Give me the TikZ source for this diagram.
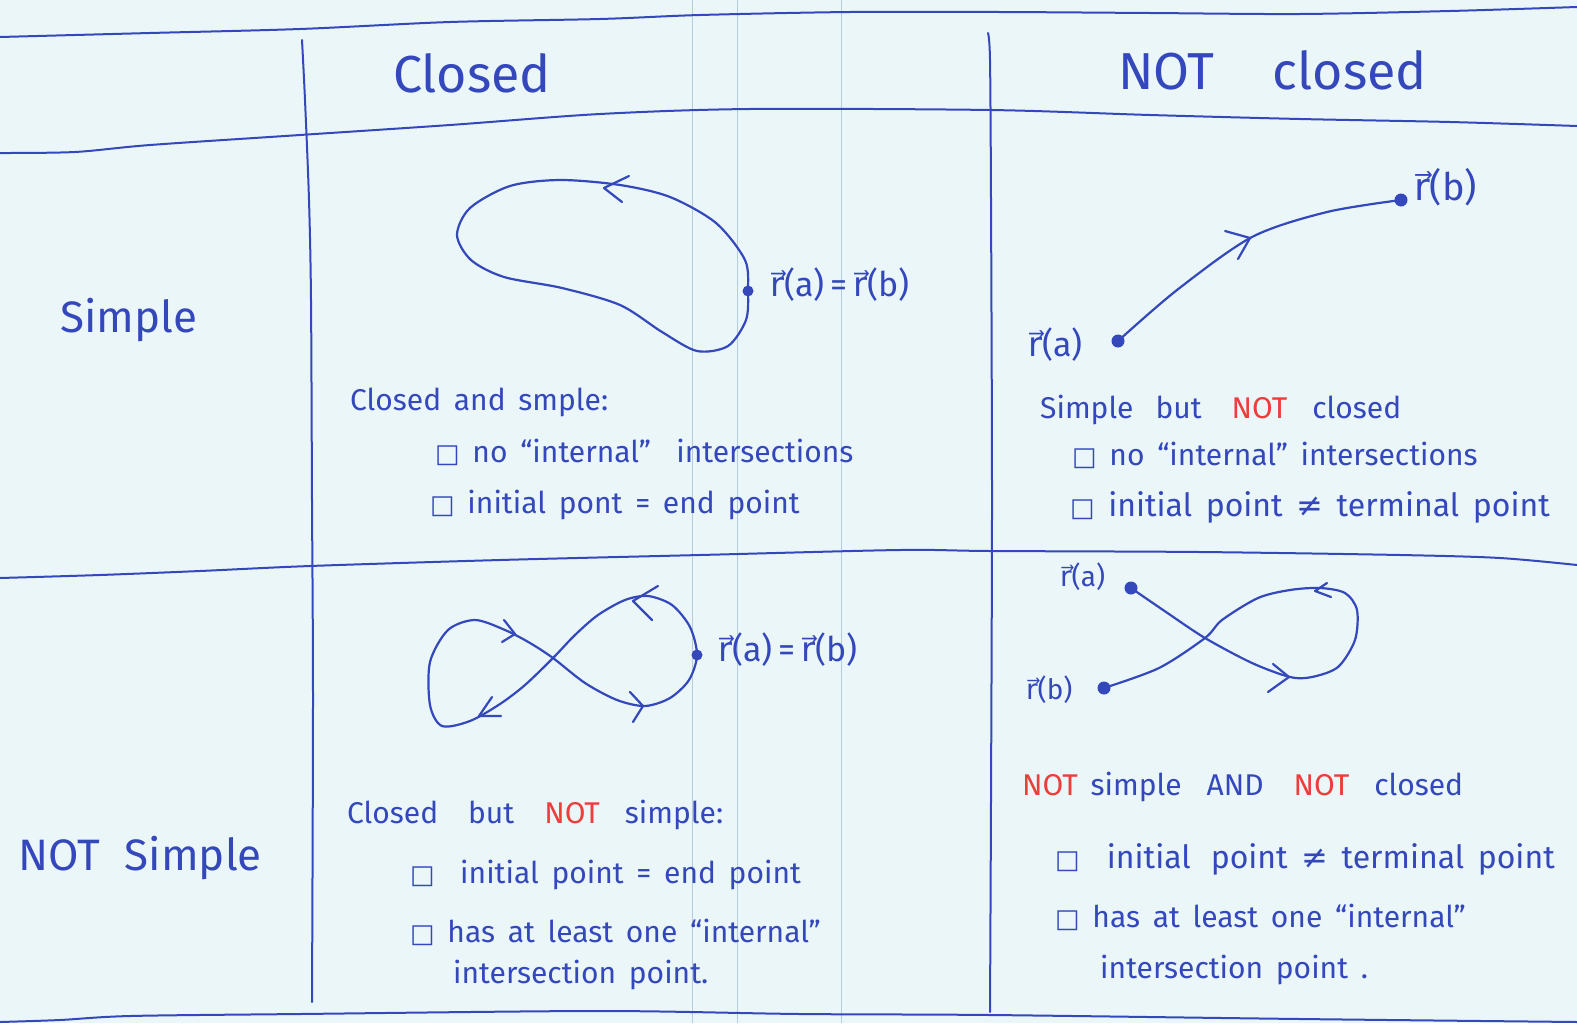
\documentclass[tikz,border=0pt]{standalone}
\usepackage{fontspec}
\setmainfont{Fira Sans}[WordSpace=1.6]
\newfontfamily\symfont{DejaVu Sans}
\definecolor{ink}{RGB}{52,72,188}
\definecolor{notred}{RGB}{236,62,58}
\definecolor{paper}{RGB}{234,246,248}
\definecolor{faint}{RGB}{180,205,222}
\newcommand{\cbx}{{\symfont\fontsize{26}{30}\selectfont □}}
\newcommand{\rvec}{{\symfont r⃗}}
\newcommand{\neqsym}{{\symfont ≠}}
\newcommand{\rednot}{\textcolor{notred}{NOT}}
\tikzset{
  pen/.style={draw=ink, line width=2.2pt, line cap=round, line join=round},
  gridline/.style={draw=ink, line width=2pt, line cap=round},
  paperline/.style={draw=faint, line width=0.8pt},
  txt/.style={anchor=west, inner sep=0pt, text=ink, font=\fontsize{30}{36}\selectfont},
  head/.style={anchor=west, inner sep=0pt, text=ink, font=\fontsize{52}{60}\selectfont},
  rowlab/.style={anchor=west, inner sep=0pt, text=ink, font=\fontsize{44}{52}\selectfont},
  lab/.style={anchor=west, inner sep=0pt, text=ink, font=\fontsize{34}{40}\selectfont},
  dot/.style={circle, fill=ink, inner sep=0pt, minimum size=13pt},
  smalldot/.style={circle, fill=ink, inner sep=0pt, minimum size=11pt}
}
\begin{document}
\begin{tikzpicture}[x=1pt,y=-1pt]
\fill[paper] (0,0) rectangle (1577,1023);
\useasboundingbox (0,0) rectangle (1577,1023);
% faint ruling of the paper
\draw[paperline] (692,0) -- (692,1023);
\draw[paperline] (737,0) -- (737,1023);
\draw[paperline] (841,0) -- (841,1023);
% table lines
\draw[gridline] plot[smooth] coordinates {(0,37) (150,33) (300,29) (450,22) (600,19) (700,15) (850,12) (1000,12) (1150,13) (1300,14) (1450,11) (1577,7)};
\draw[gridline] plot[smooth] coordinates {(0,153) (75,152) (150,145) (300,135) (450,125) (600,114) (750,109) (990,110) (1150,115) (1300,119) (1450,122) (1577,126)};
\draw[gridline] plot[smooth] coordinates {(0,578) (100,575) (200,571) (310,566) (500,560) (700,555) (900,550) (990,551) (1200,552) (1400,555) (1500,558) (1577,565)};
\draw[gridline] plot[smooth] coordinates {(0,1022) (60,1020) (130,1016) (300,1014) (600,1011) (800,1014) (990,1015) (1300,1019) (1577,1022)};
\draw[gridline] plot[smooth] coordinates {(302,40) (305,100) (309,200) (311,300) (312,500) (313,700) (312,1002)};
\draw[gridline] plot[smooth] coordinates {(988,33) (990,60) (991,200) (992,500) (991,800) (990,1012)};
% headers
\node[head] (hclosed) at (393,73) {Closed};
\node[head] (hnotclosed) at (1118,70) {NOT\hspace{58pt}closed};
\node[rowlab] (rsimple) at (60,320) {Simple};
\node[rowlab] (rnotsimple) at (18,858) {NOT\hspace{25pt}Simple};
% ---------- top-left: closed and simple
\node[smalldot] (k0) at (748,291) {};
\draw[pen] plot[smooth cycle] coordinates {(k0.center) (745,260) (716,223) (670,197) (620,185) (560,180) (510,186) (470,208) (457,235) (471,260) (504,277) (562,288) (620,305) (662,332) (697,351) (728,346) (746,320)};
\draw[pen] (629,176) -- (604,188) -- (622,202);
\node[lab] (klab) at (770,285) {\rvec(a)\,=\,\rvec(b)};
\node[txt] (t1) at (350,402) {Closed and smple:};
\node[txt] (t2) at (435,452) {\cbx\ no “internal”\ \ intersections};
\node[txt] (t3) at (430,505) {\cbx\ initial pont = end point};
% ---------- top-right: simple, not closed
\node[dot] (ra1) at (1118,341) {};
\node[dot] (rb1) at (1401,200) {};
\draw[pen] plot[smooth] coordinates {(ra1.center) (1177,290) (1252,237) (1327,212) (rb1.center)};
\draw[pen] (1225,231) -- (1250,238) -- (1238,259);
\node[lab] (ra1l) at (1028,345) {\rvec(a)};
\node[lab, font=\fontsize{38}{44}\selectfont] (rb1l) at (1414,187) {\rvec(b)};
\node[txt] (t4) at (1040,410) {Simple\hspace{22pt}but\hspace{30pt}\rednot\hspace{25pt}closed};
\node[txt] (t5) at (1072,455) {\cbx\ no “internal”\ intersections};
\node[txt, font=\fontsize{32}{38}\selectfont] (t6) at (1070,507) {\cbx\ initial point \neqsym\ terminal point};
% ---------- bottom-left: closed, not simple
\node[smalldot] (e0) at (697,655) {};
\draw[pen] plot[smooth cycle] coordinates {(e0.center) (690,627) (672,605) (648,596) (625,600) (598,615) (575,635) (553,658) (525,685) (500,704) (470,721) (442,726) (430,705) (430,662) (448,630) (475,620) (505,630) (530,643) (553,658) (585,683) (617,700) (645,706) (670,698) (689,680)};
\draw[pen] (658,586) -- (633,601) -- (652,620);
\draw[pen] (492,697) -- (479,716) -- (501,716);
\draw[pen] (504,620) -- (515,634) -- (502,642);
\draw[pen] (630,692) -- (643,706) -- (633,722);
\node[lab] (elab) at (718,650) {\rvec(a)\,=\,\rvec(b)};
\node[txt] (t7) at (347,815) {Closed\hspace{30pt}but\hspace{30pt}\rednot\hspace{25pt}simple:};
\node[txt] (t8) at (410,875) {\cbx\ \ initial point = end point};
\node[txt] (t9) at (410,932) {\cbx\ has at least one “internal”};
\node[txt] (t10) at (453,975) {intersection point.};
% ---------- bottom-right: not simple, not closed
\node[dot] (ra2) at (1131,588) {};
\node[dot] (rb2) at (1104,688) {};
\draw[pen] plot[smooth] coordinates {(ra2.center) (1166,612) (1205,638) (1252,663) (1290,677) (1312,677) (1338,667) (1355,640) (1357,610) (1345,593) (1320,588) (1290,590) (1258,598) (1222,620) (1205,638) (1159,668) (rb2.center)};
\draw[pen] (1273,664) -- (1289,677) -- (1268,692);
\draw[pen] (1327,583) -- (1315,591) -- (1331,597);
\node[lab, font=\fontsize{28}{34}\selectfont] (ra2l) at (1060,577) {\rvec(a)};
\node[lab, font=\fontsize{28}{34}\selectfont] (rb2l) at (1026,690) {\rvec(b)};
\node[txt] (t11) at (1022,787) {\rednot\ simple\hspace{25pt}AND\hspace{30pt}\rednot\hspace{25pt}closed};
\node[txt, font=\fontsize{32}{38}\selectfont] (t12) at (1055,859) {\cbx\ \ initial\hspace{20pt}point \neqsym\ terminal point};
\node[txt] (t13) at (1055,917) {\cbx\ has\ at\ least\ one\ “internal”};
\node[txt] (t14) at (1100,970) {intersection point .};
\end{tikzpicture}
\end{document}
